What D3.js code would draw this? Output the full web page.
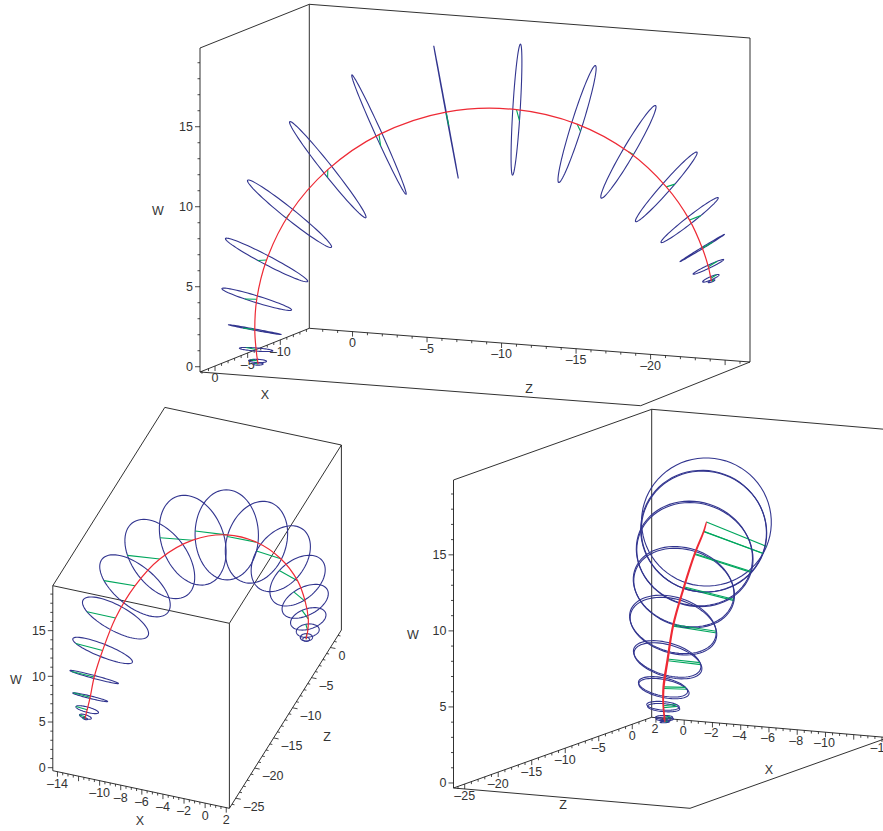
<!DOCTYPE html>
<html lang="en">
<head>
    <meta charset="utf-8">
    <title>Rings along an arc</title>
    <script src="https://d3js.org/d3.v7.min.js"></script>
    <style>
        body { margin: 0; background: #fff; }
        svg { display: block; }
        text { font-family: "Liberation Sans", Arial, sans-serif; font-size: 12.5px; fill: #333; }
    </style>
</head>
<body>
    <div id="plot"></div>
    <script>
        // axis limits of the box
        var xLimits = [-14.44, 2.3];
        var zLimits = [-26.67, 2.9];
        var wLimits = [-0.33, 19.92];

        // ring centres along the red arc
        var ringX = [0, 0.01, 0.12, 0.14, -0.15, -0.73, -1.96, -3.60, -5.48, -7.39, -9.08, -10.14, -10.86, -11.23, -11.51, -11.6, -11.76, -11.89, -11.9];
        var ringZ = [0, 0.04, 0.09, 0.17, 0.165, -0.24, -1.24, -3.09, -5.70, -9.36, -13.35, -16.95, -20.08, -22.46, -23.9, -24.71, -25.05, -25.16, -25.2];
        var ringW = [0, 0.19, 0.92, 2.16, 4.01, 6.40, 9.16, 11.78, 13.85, 15.21, 15.37, 14.55, 12.92, 10.84, 8.82, 7.12, 5.94, 5.21, 5.03];
        var ringR = [0.3, 0.55, 1.03, 1.64, 2.24, 2.85, 3.3, 3.77, 4.03, 4.15, 4.04, 3.77, 3.3, 2.85, 2.23, 1.6, 1.04, 0.55, 0.22];

        // lean of each ring in degrees, from the arc's top direction towards the chord
        var ringLean = [-80, -77, -75, -69, -62.5, -52, -41, -28, -14, 0, 14, 28, 41, 52, 62.5, 69, 75, 77, 80];

        // direction of the green radius in the arc's own frame
        var greenC = [-0.7, -0.7, -0.57, -0.43, -0.32, -0.19, -0.08, -0.03, -0.01, 0, 0.01, 0.03, 0.08, 0.19, 0.32, 0.43, 0.57, 0.7, 0.7];
        var greenN = [0.3, 0.3, 0.25, 0.165, 0.09, 0.05, -0.04, -0.1, -0.15, -0.18, -0.15, -0.1, -0.04, 0.05, 0.09, 0.165, 0.25, 0.3, 0.3];
        var greenB = [0.65, 0.65, 0.78, 0.885, 0.94, 0.98, 0.993, 0.994, 0.99, 0.98, 0.99, 0.994, 0.993, 0.98, 0.94, 0.885, 0.78, 0.65, 0.65];

        // the arc's frame as [x, z, w] vectors
        var chordDir = [-0.42, -0.889, 0.18];
        var archDir = [-0.109, 0.246, 0.963];
        var sideDir = [-0.9, 0.385, -0.2];

        // tick label lists
        var xLabels1 = [0, -5, -10];
        var xLabels2 = [-14, -10, -8, -6, -4, -2, 0, 2];
        var xLabels3 = [2, 0, -2, -4, -6, -8, -10, -14];
        var zLabels1 = [0, -5, -10, -15, -20];
        var zLabels2 = [0, -5, -10, -15, -20, -25];
        var wLabels = [0, 5, 10, 15];

        var colors = { ring: "#32358f", green: "#00a65d", red: "#ee2a35", box: "#1a1a1a" };

        var panels = [
            {
                origin: [200, 372], xSpan: [109.3, -43.7], zSpan: [440.7, 33.7], wSpan: [0, -324],
                edges: [[1, 1, 0, 1, 1, 1], [1, 1, 1, 0, 1, 1], [0, 1, 1, 0, 0, 1], [0, 0, 1, 0, 0, 0], [0, 1, 0, 0, 1, 1],
                    [0, 1, 0, 0, 0, 0], [0, 0, 0, 1, 0, 0], [1, 0, 0, 1, 1, 0], [1, 1, 0, 0, 1, 0]],
                wAt: [1, 1], xAt: 1, zAt: 0,
                xTick: { step: 1, labels: xLabels1, dx: 0, dy: 12 },
                zTick: { labels: zLabels1, dx: 0, dy: 11, anchor: "middle", dir: [0, 1] },
                titles: [["W", 158, 211], ["X", 265, 395], ["Z", 529, 389]]
            },
            {
                origin: [341.4, 630], xSpan: [-176.6, -37.6], zSpan: [-112, 178.3], wSpan: [0, -185],
                edges: [[1, 1, 1, 0, 1, 1], [0, 1, 1, 0, 0, 1], [0, 0, 1, 1, 0, 1], [1, 0, 1, 1, 1, 1],
                    [0, 0, 0, 0, 0, 1], [1, 0, 0, 1, 0, 1], [1, 1, 0, 1, 1, 1], [0, 0, 0, 1, 0, 0], [1, 0, 0, 1, 1, 0]],
                wAt: [0, 0], xAt: 0, zAt: 1,
                xTick: { step: 0.5, labels: xLabels2, dx: 0, dy: 12 },
                zTick: { labels: zLabels2, dx: 8, dy: 8, anchor: "start", dir: [1, 0.2] },
                titles: [["W", 16, 680], ["X", 140, 821], ["Z", 327, 737]]
            },
            {
                origin: [651.7, 717.3], xSpan: [236.5, 20.3], zSpan: [-198.2, 70.7], wSpan: [0, -308],
                edges: [[1, 0, 1, 1, 1, 1], [1, 1, 1, 0, 1, 1], [1, 0, 0, 1, 0, 1], [1, 1, 0, 1, 1, 1], [0, 1, 0, 0, 1, 1],
                    [1, 0, 0, 0, 0, 0], [0, 0, 0, 0, 1, 0], [1, 0, 0, 1, 1, 0], [1, 1, 0, 0, 1, 0]],
                wAt: [1, 0], xAt: 1, zAt: 1,
                xTick: { step: 0.5, labels: xLabels3, dx: -1, dy: 10.5 },
                zTick: { labels: zLabels2, dx: 0, dy: 11.5, anchor: "middle", dir: [0, 1] },
                titles: [["W", 413, 635], ["X", 769, 770], ["Z", 563, 805]]
            }
        ];

        var svg = d3.select("#plot").append("svg")
            .attr("width", 883)
            .attr("height", 831);

        function unit(v) {
            var len = Math.sqrt(v[0] * v[0] + v[1] * v[1] + v[2] * v[2]);
            return [v[0] / len, v[1] / len, v[2] / len];
        }

        function dot(a, b) {
            return a[0] * b[0] + a[1] * b[1] + a[2] * b[2];
        }

        function frame(c, n, b) {
            return [0, 1, 2].map(function (i) { return c * chordDir[i] + n * archDir[i] + b * sideDir[i]; });
        }

        function label(g, value, x, y, anchor) {
            g.append("text")
                .attr("x", x)
                .attr("y", y)
                .attr("dy", "0.35em")
                .attr("text-anchor", anchor)
                .text(String(value).replace("-", "\u2013"));
        }

        function drawPanel(p) {
            var g = svg.append("g");

            // one vector scale per axis, all measured from the box corner
            var xScale = d3.scaleLinear().domain([xLimits[1], xLimits[0]]).range([[0, 0], p.xSpan]);
            var zScale = d3.scaleLinear().domain([zLimits[1], zLimits[0]]).range([[0, 0], p.zSpan]);
            var wScale = d3.scaleLinear().domain(wLimits).range([[0, 0], p.wSpan]);

            function project(x, z, w) {
                var a = xScale(x), b = zScale(z), c = wScale(w);
                return [p.origin[0] + a[0] + b[0] + c[0], p.origin[1] + a[1] + b[1] + c[1]];
            }

            function segment(a, b, width, color) {
                g.append("line")
                    .attr("x1", a[0]).attr("y1", a[1])
                    .attr("x2", b[0]).attr("y2", b[1])
                    .attr("stroke", color)
                    .attr("stroke-width", width);
            }

            // box edges, each end given as limit indexes (x, z, w)
            p.edges.forEach(function (e) {
                segment(project(xLimits[e[0]], zLimits[e[1]], wLimits[e[2]]),
                    project(xLimits[e[3]], zLimits[e[4]], wLimits[e[5]]), 0.9, colors.box);
            });

            // W axis
            var wx = xLimits[p.wAt[0]], wz = zLimits[p.wAt[1]];
            d3.range(0, 20).forEach(function (v) {
                var a = project(wx, wz, v);
                var len = v % 5 == 0 ? 5 : 2.5;
                segment(a, [a[0] - len, a[1]], 0.8, colors.box);
            });
            wLabels.forEach(function (v) {
                var a = project(wx, wz, v);
                label(g, v, a[0] - 7, a[1], "end");
            });

            // X axis
            var xz = zLimits[p.xAt];
            d3.range(-14, 2.01, p.xTick.step).forEach(function (v) {
                var a = project(v, xz, wLimits[0]);
                var major = p.xTick.step == 1 ? v % 5 == 0 : v % 2 == 0;
                segment(a, [a[0], a[1] + (major ? 5 : 2.5)], 0.8, colors.box);
            });
            p.xTick.labels.forEach(function (v) {
                var a = project(v, xz, wLimits[0]);
                label(g, v, a[0] + p.xTick.dx, a[1] + p.xTick.dy, "middle");
            });

            // Z axis
            var zx = xLimits[p.zAt];
            d3.range(-26, 3).forEach(function (v) {
                var a = project(zx, v, wLimits[0]);
                var len = v % 5 == 0 ? 5 : 2.5;
                segment(a, [a[0] + p.zTick.dir[0] * len, a[1] + p.zTick.dir[1] * len], 0.8, colors.box);
            });
            p.zTick.labels.forEach(function (v) {
                var a = project(zx, v, wLimits[0]);
                label(g, v, a[0] + p.zTick.dx, a[1] + p.zTick.dy, p.zTick.anchor);
            });

            p.titles.forEach(function (t) {
                label(g, t[0], t[1], t[2], "middle");
            });

            // rings and their green radius
            var ringLine = d3.line().curve(d3.curveLinearClosed);
            var angles = d3.range(0, 2 * Math.PI, Math.PI / 36);

            ringX.forEach(function (cx, i) {
                var cz = ringZ[i], cw = ringW[i], r = ringR[i];
                var u = unit(frame(greenC[i], greenN[i], greenB[i]));
                var lean = ringLean[i] * Math.PI / 180;
                var raw = frame(Math.sin(lean), Math.cos(lean), 0);
                var d = dot(raw, u);
                var v = unit([raw[0] - d * u[0], raw[1] - d * u[1], raw[2] - d * u[2]]);

                var pts = angles.map(function (t) {
                    var a = r * Math.cos(t), b = r * Math.sin(t);
                    return project(cx + a * u[0] + b * v[0], cz + a * u[1] + b * v[1], cw + a * u[2] + b * v[2]);
                });

                g.append("path")
                    .attr("d", ringLine(pts))
                    .attr("fill", "none")
                    .attr("stroke", colors.ring)
                    .attr("stroke-width", 1.1);

                segment(project(cx, cz, cw), project(cx + r * u[0], cz + r * u[1], cw + r * u[2]), 1.1, colors.green);
            });

            // red arc through the centres
            var arcLine = d3.line().curve(d3.curveCatmullRom.alpha(0.5));
            g.append("path")
                .attr("d", arcLine(ringX.map(function (x, i) { return project(x, ringZ[i], ringW[i]); })))
                .attr("fill", "none")
                .attr("stroke", colors.red)
                .attr("stroke-width", 1.2);
        }

        panels.forEach(drawPanel);
    </script>
</body>
</html>
